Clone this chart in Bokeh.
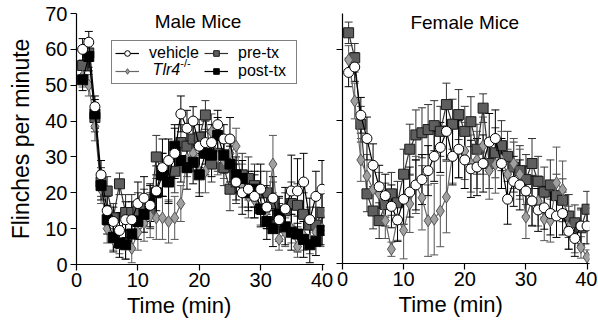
from bokeh.plotting import figure
from bokeh.models import (ColumnDataSource, Whisker, TeeHead, Legend, LegendItem, Label)
from bokeh.layouts import row
from bokeh.embed import file_html
from bokeh.resources import INLINE

minutes = list(range(1, 41))

# Male mice
male_vehicle = [60, 62, 44, 25, 15, 12, 9.5, 12.5, 12.5, 17, 18.5, 16.5, 20.5, 27, 29, 31, 42, 38, 40, 33,
                34, 34, 39, 35, 35, 23, 20, 21, 19, 21, 16, 18.5, 12.5, 15.5, 20.5, 20.5, 23, 12.5, 19, 21]
male_vehicle_err = [3, 3, 3, 4, 4, 4, 5, 5, 5, 6, 6, 6, 7, 8, 6, 7, 5, 5, 4, 6,
                    6, 5, 4, 4, 6, 5, 6, 5, 6, 7, 6, 6, 6, 6, 10, 9, 8, 6, 7, 8]
male_tlr4 = [52.5, 50, 38.5, 21, 10, 7, 6, 5.5, 4.5, 9, 11.5, 13.5, 13, 13, 12, 13, 17, 29.5, 31, 26,
             26, 37, 30, 29, 31, 33, 22, 19, 18, 16, 15, 28, 7, 9, 10, 5, 8, 7, 9, 10]
male_tlr4_err = [3, 3, 4, 4, 4, 3, 3, 4, 4, 5, 5, 6, 6, 6, 6, 6, 5, 5, 5, 6,
                 6, 5, 5, 5, 5, 5, 6, 6, 5, 5, 5, 8, 3, 4, 4, 3, 4, 4, 4, 5]
male_pretx = [55.5, 59, 41, 23, 20.5, 13, 22.5, 14.5, 14.5, 15, 16, 15, 30, 25, 23.5, 26, 34, 33, 35, 35.5,
              41.7, 28, 31, 27, 21, 23, 25, 24, 22, 20, 20, 17, 12, 15, 17, 16.5, 14, 11, 11, 14.5]
male_pretx_err = [4, 4, 4, 4, 4, 4, 3, 5, 5, 5, 5, 5, 6, 6, 6, 6, 5, 5, 5, 5,
                  4, 5, 5, 5, 6, 6, 6, 6, 6, 6, 6, 6, 5, 5, 6, 6, 6, 5, 5, 6]
male_posttx = [51.5, 58, 42, 22, 12.5, 7.5, 6, 5.5, 8.5, 12, 14, 17, 20, 25, 23, 33, 29, 27, 28.5, 25,
               31, 30.5, 36, 30.5, 28, 25, 24, 20, 21, 15.5, 12, 10, 14, 10.5, 9, 8.5, 7, 5.5, 6.5, 9.5]
male_posttx_err = [3, 4, 4, 4, 4, 4, 4, 4, 4, 5, 5, 5, 5, 6, 6, 6, 6, 6, 6, 6,
                   6, 6, 5, 5, 5, 5, 5, 5, 5, 5, 5, 5, 5, 5, 5, 5, 5, 5, 4, 4]

# Female mice
female_vehicle = [53.5, 55, 41.5, 35, 27.5, 21.5, 19, 16, 12.2, 18, 20, 22, 23.5, 26, 30, 32.5, 37, 30, 32, 29,
                  26.5, 27, 28, 34, 35, 28, 18, 23, 22, 20.3, 17.5, 15, 15.6, 14, 13.3, 14, 9, 7, 10.5, 10.5]
female_vehicle_err = [4, 4, 5, 6, 6, 6, 6, 6, 6, 7, 7, 7, 7, 7, 7, 7, 8, 8, 8, 8,
                      8, 8, 8, 8, 8, 7, 7, 7, 7, 7, 7, 6, 6, 6, 6, 6, 5, 5, 5, 5]
female_tlr4 = [57, 45.5, 29, 24.5, 20.7, 19.5, 12, 4, 12.5, 9.3, 16.7, 22, 18.4, 12, 12.4, 14.7, 18.6, 30.5, 32, 31.5,
               28, 29, 33, 26, 27.7, 29, 25, 28, 25, 13, 17.7, 17.5, 12.4, 12, 22.6, 20.7, 10, 7, 4.5, 1.8]
female_tlr4_err = [4, 5, 6, 6, 6, 6, 5, 2, 6, 8, 8, 8, 9, 10, 10, 10, 10, 8, 8, 8,
                   8, 8, 8, 8, 8, 8, 7, 7, 7, 6, 7, 7, 6, 6, 10, 8, 6, 4, 3, 2]
female_pretx = [64.6, 57.6, 39, 19.5, 14.7, 12, 16.5, 19.5, 17, 25, 32, 36, 36.6, 37.5, 38.6, 37, 44.5, 39, 41.7, 37,
                39.7, 32, 43.5, 28, 31, 33, 30, 27, 26, 23.5, 28, 23, 20, 22, 19, 17.7, 13.3, 11.4, 10, 15.2]
female_pretx_err = [3, 4, 5, 5, 5, 5, 6, 6, 6, 7, 7, 7, 7, 7, 7, 7, 6, 7, 7, 7,
                    7, 7, 4, 7, 7, 7, 7, 7, 7, 7, 7, 7, 7, 7, 6, 6, 6, 5, 5, 5]

FONT = "Liberation Sans"
X_LABEL = "Time (min)"


def make_fig(fw, fh, left, top, bottom, right, yticks, pad):
    p = figure(frame_width=fw, frame_height=fh, x_range=(0, 40.4), y_range=(0, 70),
               output_backend="svg", toolbar_location=None,
               min_border_left=left, min_border_top=top, min_border_bottom=bottom,
               min_border_right=right)
    p.xgrid.visible = False
    p.ygrid.visible = False
    p.outline_line_color = None
    p.xaxis.ticker = [0, 10, 20, 30, 40]
    p.yaxis.ticker = yticks
    for ax in (p.xaxis, p.yaxis):
        ax.axis_line_color = "black"
        ax.axis_line_width = 1.2
        ax.major_tick_line_color = "black"
        ax.major_tick_line_width = 1.2
        ax.major_tick_out = 6
        ax.major_tick_in = 0
        ax.minor_tick_out = 0
        ax.minor_tick_in = 0
        ax.major_label_text_font = FONT
        ax.major_label_text_font_size = "20px"
        ax.major_label_text_color = "black"
        ax.axis_label_text_font = FONT
        ax.axis_label_text_font_size = "22px"
        ax.axis_label_text_font_style = "normal"
        ax.axis_label_text_color = "black"
    p.xaxis.major_label_standoff = 2
    p.xaxis.axis_label = X_LABEL + "\u00a0" * pad
    p.xaxis.axis_label_standoff = 3
    return p


def add_series(p, y, err, marker, fill, edge, size, lcolor, bar_color):
    src = ColumnDataSource(dict(t=minutes, y=y,
                                lo=[a - b for a, b in zip(y, err)],
                                hi=[a + b for a, b in zip(y, err)]))
    w = Whisker(source=src, base="t", lower="lo", upper="hi",
                line_color=bar_color, line_width=1,
                upper_head=TeeHead(size=8, line_color=bar_color, line_width=1),
                lower_head=TeeHead(size=8, line_color=bar_color, line_width=1))
    p.add_layout(w)
    lr = p.line("t", "y", source=src, line_color=lcolor, line_width=1.2)
    sr = p.scatter("t", "y", source=src, marker=marker, size=size,
                   fill_color=fill, line_color=edge, line_width=1)
    return lr, sr


# ---- Male panel
p1 = make_fig(248, 251, 76, 13, 60, 9, [0, 10, 20, 30, 40, 50, 60, 70], 7)
p1.yaxis.axis_label = "Flinches per minute"
p1.yaxis.axis_label_text_font_size = "23px"
p1.yaxis.major_label_standoff = 3
p1.yaxis.axis_label_standoff = 8

r_pre = add_series(p1, male_pretx, male_pretx_err, "square", "#5e5e5e", "#1a1a1a", 10, "#333333", "#333333")
r_tlr = add_series(p1, male_tlr4, male_tlr4_err, "diamond", "#a0a0a0", "#555555", 12, "#666666", "#555555")
r_post = add_series(p1, male_posttx, male_posttx_err, "square", "#000000", "#000000", 10, "#000000", "#000000")
r_veh = add_series(p1, male_vehicle, male_vehicle_err, "circle", "white", "black", 10, "#000000", "#000000")

legend = Legend(items=[LegendItem(label="vehicle", renderers=list(r_veh)),
                       LegendItem(label=" ", renderers=list(r_tlr)),
                       LegendItem(label="pre-tx", renderers=list(r_pre)),
                       LegendItem(label="post-tx", renderers=list(r_post))],
                ncols=2, location=(35, 180), border_line_color="black", border_line_width=1.2,
                background_fill_alpha=0,
                label_text_font=FONT, label_text_font_size="16px", label_text_color="black",
                glyph_width=24, glyph_height=14, label_standoff=10, label_width=55,
                spacing=0, padding=3, margin=0, label_height=16)
p1.add_layout(legend)

# italic genotype label with superscript, placed in the legend's second row
p1.add_layout(Label(x=12.4, y=54.4, text="Tlr4", text_align="left", text_baseline="middle",
                    text_font=FONT, text_font_size="16px", text_font_style="italic",
                    text_color="black", level="overlay"))
p1.add_layout(Label(x=16.9, y=56.2, text="-/-", text_align="left", text_baseline="middle",
                    text_font=FONT, text_font_size="11px", text_color="black", level="overlay"))

p1.add_layout(Label(x=19.8, y=67.8, text="Male Mice", text_align="center", text_baseline="middle",
                    text_font=FONT, text_font_size="19px", text_color="black"))

# ---- Female panel
p2 = make_fig(247, 250, 9, 12, 62, 8, [0, 20, 40, 60], 5)
p2.yaxis.major_label_overrides = {0: "", 20: "", 40: "", 60: ""}
p2.yaxis.major_label_standoff = 0
add_series(p2, female_pretx, female_pretx_err, "square", "#5e5e5e", "#1a1a1a", 10, "#333333", "#333333")
add_series(p2, female_tlr4, female_tlr4_err, "diamond", "#a0a0a0", "#555555", 12, "#666666", "#555555")
add_series(p2, female_vehicle, female_vehicle_err, "circle", "white", "black", 10, "#000000", "#000000")
p2.add_layout(Label(x=20, y=67.6, text="Female Mice", text_align="center", text_baseline="middle",
                    text_font=FONT, text_font_size="19px", text_color="black"))

layout = row(p1, p2)
open("out.html", "w").write(file_html(layout, INLINE))
